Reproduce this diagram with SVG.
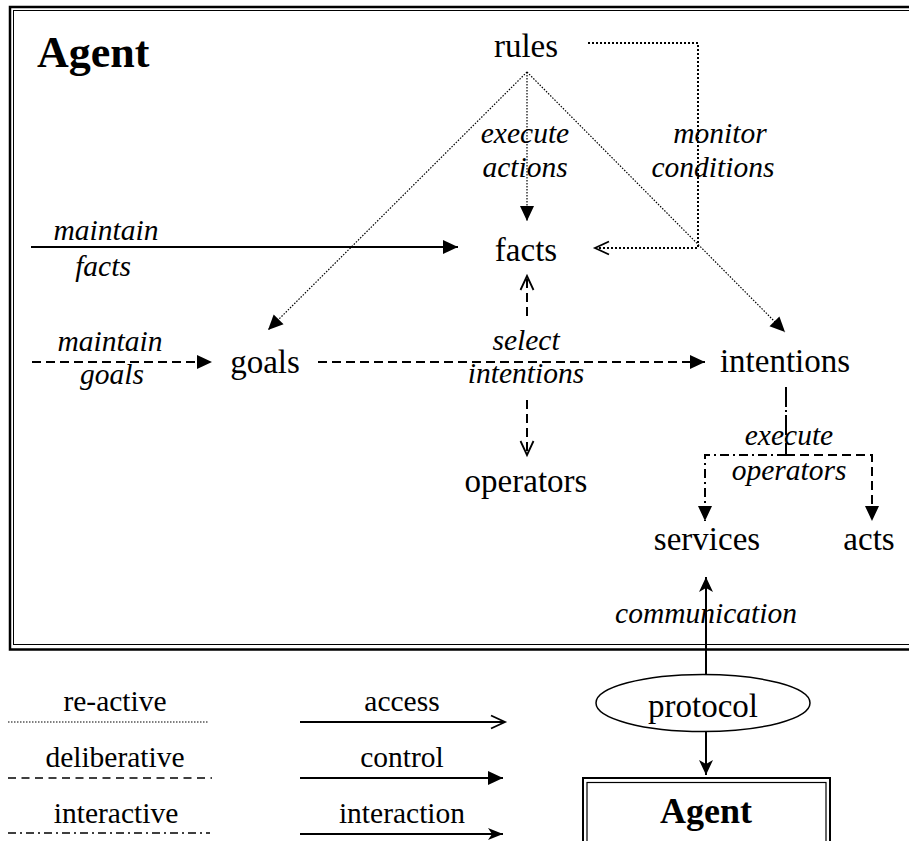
<svg xmlns="http://www.w3.org/2000/svg" width="909" height="841" viewBox="0 0 909 841">
<style>
text{font-family:"Liberation Serif","Times New Roman",serif;fill:#000}
.node{font-size:33px;text-anchor:middle}
.lbl{font-size:29.5px;font-style:italic;text-anchor:middle}
.leg{font-size:29.5px;text-anchor:middle}
.ln{fill:none;stroke:#000}
.dot{stroke-width:1.2;stroke-dasharray:1.5 1.5}
.dot2{stroke-width:2;stroke-dasharray:2 2}
.dash{stroke-width:2;stroke-dasharray:9 5}
.dd{stroke-width:2;stroke-dasharray:9 4 2 4}
.solid{stroke-width:2}
</style>
<defs>
<marker id="fa" markerUnits="userSpaceOnUse" markerWidth="16" markerHeight="16" refX="15" refY="7" orient="auto" overflow="visible">
<path d="M0,0 L15,7 L0,14 z" fill="#000"/>
</marker>
<marker id="oa" markerUnits="userSpaceOnUse" markerWidth="16" markerHeight="16" refX="15" refY="7" orient="auto" overflow="visible">
<path d="M1,0.5 L15,7 L1,13.5" fill="none" stroke="#000" stroke-width="1.8"/>
</marker>
<marker id="ia" markerUnits="userSpaceOnUse" markerWidth="16" markerHeight="16" refX="15" refY="6" orient="auto" overflow="visible">
<path d="M0,0 L15,6 L0,12 L4,6 z" fill="#000"/>
</marker>
<marker id="ba" markerUnits="userSpaceOnUse" markerWidth="16" markerHeight="16" refX="15" refY="7" orient="auto" overflow="visible">
<path d="M0,0 L15,7 L0,14 L4,7 z" fill="#000"/>
</marker>
</defs>

<g id="frame">
<rect x="10" y="7" width="920" height="642.5" fill="none" stroke="#000" stroke-width="2.5"/>
<rect x="13.5" y="10.5" width="920" height="634" fill="none" stroke="#000" stroke-width="1"/>
<text x="37" y="67" font-size="44" font-weight="bold">Agent</text>
</g>

<g id="connectors">
<!-- re-active from rules -->
<path class="ln dot" d="M527,72 L268,330" marker-end="url(#fa)"/>
<path class="ln dot" d="M527,72 L527,221" marker-end="url(#fa)"/>
<path class="ln dot" d="M527,72 L785,332" marker-end="url(#fa)"/>
<path class="ln dot2" d="M588,43 L698,43 L698,248 L595,248" marker-end="url(#oa)"/>
<!-- maintain facts -->
<path class="ln solid" d="M31,247 L458,247" marker-end="url(#fa)"/>
<!-- maintain goals -->
<path class="ln dash" d="M32,362 L212,362" marker-end="url(#fa)"/>
<!-- select intentions -->
<path class="ln dash" d="M318,362 L705,362" marker-end="url(#fa)"/>
<path class="ln dash" d="M527,316 L527,276" marker-end="url(#oa)"/>
<path class="ln dash" d="M527,400 L527,455" marker-end="url(#oa)"/>
<!-- execute operators -->
<path class="ln" stroke-width="2" stroke-dasharray="20 3 2 3" d="M786,387 L786,455"/>
<path class="ln dd" d="M786,455 L705,455 L705,521" marker-end="url(#fa)"/>
<path class="ln dash" d="M786,455 L872,455 L872,521" marker-end="url(#fa)"/>
<!-- communication -->
<path class="ln solid" d="M706,675 L706,577" marker-end="url(#ba)"/>
<path class="ln solid" d="M706,732 L706,775" marker-end="url(#ba)"/>
</g>

<g id="labels">
<text class="lbl" x="525" y="143">execute</text>
<text class="lbl" x="525" y="177">actions</text>
<text class="lbl" x="720" y="143">monitor</text>
<text class="lbl" x="713" y="177">conditions</text>
<text class="lbl" x="106" y="240">maintain</text>
<text class="lbl" x="103" y="276">facts</text>
<text class="lbl" x="110" y="351">maintain</text>
<text class="lbl" x="112" y="384">goals</text>
<text class="lbl" x="526" y="350">select</text>
<text class="lbl" x="526" y="383">intentions</text>
<text class="lbl" x="789" y="445">execute</text>
<text class="lbl" x="789" y="480">operators</text>
<text class="lbl" x="706" y="623">communication</text>
</g>

<g id="rules"><text class="node" x="526" y="57">rules</text></g>
<g id="facts"><text class="node" x="526" y="261">facts</text></g>
<g id="goals"><text class="node" x="265" y="373">goals</text></g>
<g id="intentions"><text class="node" x="785" y="372">intentions</text></g>
<g id="operators"><text class="node" x="526" y="492">operators</text></g>
<g id="services"><text class="node" x="707" y="550">services</text></g>
<g id="acts"><text class="node" x="869" y="550">acts</text></g>

<g id="protocol">
<ellipse cx="703" cy="703" rx="107" ry="28.5" fill="#fff" stroke="#000" stroke-width="1.5"/>
<text class="node" x="703" y="717">protocol</text>
</g>

<g id="agent2">
<rect x="583" y="778" width="247" height="80" fill="none" stroke="#000" stroke-width="2"/>
<rect x="587" y="782.5" width="239" height="80" fill="none" stroke="#000" stroke-width="1.2"/>
<text x="706" y="823" font-size="36" font-weight="bold" text-anchor="middle">Agent</text>
</g>

<g id="legend">
<text class="leg" x="115" y="711">re-active</text>
<path class="ln" stroke-width="1.2" stroke-dasharray="1.5 1.5" d="M8,722 L209,722"/>
<text class="leg" x="115" y="767">deliberative</text>
<path class="ln" stroke-width="1.5" stroke-dasharray="8 5.5" d="M8,778 L212,778"/>
<text class="leg" x="116" y="823">interactive</text>
<path class="ln" stroke-width="1.5" stroke-dasharray="8 4 2 4" d="M8,833 L210,833"/>
<text class="leg" x="402" y="711">access</text>
<path class="ln" stroke-width="2" d="M300,722 L505,722" marker-end="url(#oa)"/>
<text class="leg" x="402" y="767">control</text>
<path class="ln" stroke-width="2" d="M300,778 L503,778" marker-end="url(#fa)"/>
<text class="leg" x="402" y="823">interaction</text>
<path class="ln" stroke-width="2" d="M300,834 L503,834" marker-end="url(#ia)"/>
</g>
</svg>
